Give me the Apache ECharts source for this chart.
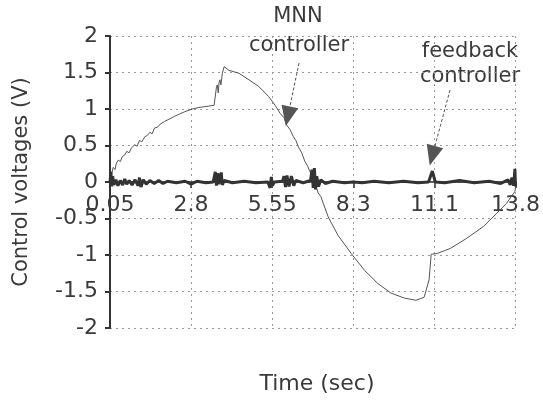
<!DOCTYPE html>
<html>
<head>
<meta charset="utf-8">
<script src="https://cdn.jsdelivr.net/npm/echarts@6/dist/echarts.min.js"></script>
<style>
  html, body { margin: 0; padding: 0; background: #fff; }
  #chart { width: 543px; height: 400px; }
</style>
</head>
<body>
<div id="chart"></div>
<script>
// Time axis: first sample and tick spacing (s)
const T0 = 0.05;
const TICK_STEP = 2.75;
const xTickLabels = ['0.05', '2.8', '5.55', '8.3', '11.1', '13.8'];
const yTickLabels = ['-2', '-1.5', '-1', '-0.5', '0', '0.5', '1', '1.5', '2'];

// MNN controller output (V)
const mnnTime = [0.05, 0.11, 0.16, 0.22, 0.27, 0.33, 0.40, 0.47, 0.55, 0.62, 0.70, 0.78,
  0.89, 0.97, 1.05, 1.13, 1.23, 1.32, 1.40, 1.48, 1.56, 1.65, 1.75, 1.90, 2.05, 2.24,
  2.40, 2.57, 2.84, 3.05, 3.24, 3.40, 3.58, 3.64, 3.66, 3.69, 3.72, 3.75, 3.78, 3.81,
  3.86, 3.92, 4.08, 4.42, 4.76, 5.09, 5.43, 5.65, 5.82, 5.95, 6.04, 6.15, 6.27, 6.35,
  6.44, 6.55, 6.66, 6.75, 6.83, 6.92, 7.00, 7.11, 7.20, 7.28, 7.45, 7.78, 8.23, 8.68,
  9.13, 9.57, 10.03, 10.42, 10.70, 10.87, 10.94, 11.14, 11.59, 12.15, 12.71, 13.16,
  13.50, 13.78, 13.80];
const mnnVolt = [0.02, 0.12, 0.20, 0.17, 0.26, 0.30, 0.28, 0.35, 0.37, 0.42, 0.40, 0.47,
  0.51, 0.49, 0.57, 0.55, 0.62, 0.64, 0.68, 0.66, 0.74, 0.75, 0.79, 0.83, 0.86, 0.90,
  0.93, 0.96, 1.00, 1.02, 1.03, 1.04, 1.05, 1.06, 1.30, 1.33, 1.22, 1.37, 1.40, 1.33,
  1.49, 1.58, 1.53, 1.49, 1.40, 1.31, 1.17, 1.05, 0.94, 0.88, 0.78, 0.72, 0.62, 0.57,
  0.48, 0.40, 0.28, 0.22, 0.14, 0.07, -0.02, -0.15, -0.20, -0.29, -0.48, -0.73, -0.98,
  -1.21, -1.39, -1.52, -1.59, -1.62, -1.58, -1.34, -0.99, -0.98, -0.91, -0.77, -0.61,
  -0.43, -0.29, -0.13, -0.08];

// Feedback controller output (V)
const fbTime = [0.05, 0.08, 0.11, 0.14, 0.18, 0.25, 0.32, 0.40, 0.48, 0.55, 0.62, 0.70,
  0.80, 0.90, 1.00, 1.05, 1.10, 1.18, 1.28, 1.40, 1.55, 1.70, 1.85, 2.00, 2.30, 2.60,
  2.80, 3.00, 3.30, 3.55, 3.62, 3.66, 3.70, 3.74, 3.82, 3.86, 3.92, 4.20, 4.60, 5.00,
  5.40, 5.48, 5.52, 5.56, 5.62, 5.90, 5.95, 6.00, 6.05, 6.12, 6.20, 6.28, 6.35, 6.60,
  6.85, 6.90, 6.94, 6.98, 7.02, 7.06, 7.12, 7.20, 7.35, 7.60, 8.00, 8.30, 8.60, 9.00,
  9.50, 10.00, 10.50, 10.85, 10.98, 11.03, 11.08, 11.40, 11.90, 12.40, 12.90, 13.30,
  13.55, 13.62, 13.68, 13.74, 13.78, 13.80];
const fbVolt = [0.00, 0.14, -0.06, 0.08, -0.04, 0.03, -0.05, 0.02, -0.04, 0.04, -0.03, 0.02,
  -0.04, 0.03, -0.05, 0.06, -0.07, 0.03, -0.03, 0.02, -0.02, 0.02, -0.02, 0.01, -0.01, 0.01,
  -0.03, 0.01, -0.01, 0.00, 0.14, -0.05, 0.12, -0.03, 0.13, -0.04, 0.02, -0.01, 0.01, -0.01,
  0.00, -0.08, 0.07, -0.05, 0.00, 0.01, 0.08, -0.07, 0.09, -0.06, 0.08, -0.05, 0.02, -0.01,
  0.02, 0.17, -0.08, 0.19, -0.10, 0.08, -0.06, 0.03, -0.02, 0.01, -0.01, 0.00, -0.01, 0.01,
  -0.01, 0.01, -0.01, 0.00, 0.15, 0.16, 0.00, -0.01, 0.02, -0.01, 0.01, -0.02,
  0.03, -0.04, 0.06, -0.05, 0.18, -0.06];

// Annotation arrows: [start time, start V, end time, end V]
const mnnArrow = [6.46, 1.63, 6.08, 0.90];
const fbArrow = [11.58, 1.26, 10.98, 0.36];

const FONT = 'DejaVu Sans';
const TEXT = '#3a3a3a';

const GRID = { left: 110, right: 24, top: 36, bottom: 72 };
const Y_MIN = -2, Y_MAX = 2;
// The time axis runs along V = 0, half way down the plot
const plotHeight = 400 - GRID.top - GRID.bottom;
const zeroOffset = -plotHeight * (0 - Y_MIN) / (Y_MAX - Y_MIN);

const pairs = (ts, vs) => ts.map((t, i) => [t - T0, vs[i]]);
const pt = (t, v) => [t - T0, v];

const chart = echarts.init(document.getElementById('chart'), null, { renderer: 'canvas' });

const labelStyle = (text, x, y, size) => ({
  type: 'text',
  style: { text, x, y, fontFamily: FONT, fontSize: size, fill: TEXT, align: 'center', verticalAlign: 'middle' }
});

chart.setOption({
  animation: false,
  backgroundColor: '#ffffff',
  grid: Object.assign({ containLabel: false }, GRID),
  xAxis: {
    type: 'value',
    min: 0,
    max: TICK_STEP * (xTickLabels.length - 1),
    interval: TICK_STEP,
    position: 'bottom',
    offset: zeroOffset,
    axisLine: { onZero: false, lineStyle: { color: '#333', width: 1.5 } },
    axisTick: { show: true, inside: false, length: 6, lineStyle: { color: '#333', width: 1.5 } },
    axisLabel: {
      margin: 12,
      fontFamily: FONT,
      fontSize: 22,
      color: TEXT,
      formatter: (v) => xTickLabels[Math.round(v / TICK_STEP)]
    },
    splitLine: { show: true, lineStyle: { color: '#999', type: [2, 4], width: 1 } }
  },
  yAxis: {
    type: 'value',
    min: Y_MIN,
    max: Y_MAX,
    interval: 0.5,
    name: 'Control voltages (V)',
    nameLocation: 'middle',
    nameGap: 78,
    nameTextStyle: { fontFamily: FONT, fontSize: 21, color: TEXT },
    axisLine: { show: true, onZero: false, lineStyle: { color: '#333', width: 2 } },
    axisTick: { show: true, inside: false, length: 5, lineStyle: { color: '#333', width: 2 } },
    axisLabel: {
      margin: 12,
      fontFamily: FONT,
      fontSize: 22,
      color: TEXT,
      formatter: (v) => yTickLabels[Math.round((v - Y_MIN) / 0.5)]
    },
    splitLine: { show: true, lineStyle: { color: '#999', type: [2, 4], width: 1 } }
  },
  series: [
    {
      name: 'MNN controller',
      type: 'line',
      data: pairs(mnnTime, mnnVolt),
      showSymbol: false,
      lineStyle: { color: '#555', width: 1 },
      z: 3,
      markLine: {
        silent: true,
        symbol: ['none', 'triangle'],
        symbolSize: [17, 20],
        label: { show: false },
        lineStyle: { color: '#555', width: 1, type: [3, 2] },
        itemStyle: { color: '#333' },
        data: [
          [{ coord: pt(mnnArrow[0], mnnArrow[1]) }, { coord: pt(mnnArrow[2], mnnArrow[3]) }],
          [{ coord: pt(fbArrow[0], fbArrow[1]) }, { coord: pt(fbArrow[2], fbArrow[3]) }]
        ]
      }
    },
    {
      name: 'feedback controller',
      type: 'line',
      data: pairs(fbTime, fbVolt),
      showSymbol: false,
      lineStyle: { color: '#333', width: 3 },
      z: 4
    }
  ],
  graphic: [
    labelStyle('MNN', 298, 17, 21),
    labelStyle('controller', 299, 46, 21),
    labelStyle('feedback', 470, 52, 21),
    labelStyle('controller', 470, 77, 21),
    labelStyle('Time (sec)', 317, 384, 22)
  ]
});
</script>
</body>
</html>
